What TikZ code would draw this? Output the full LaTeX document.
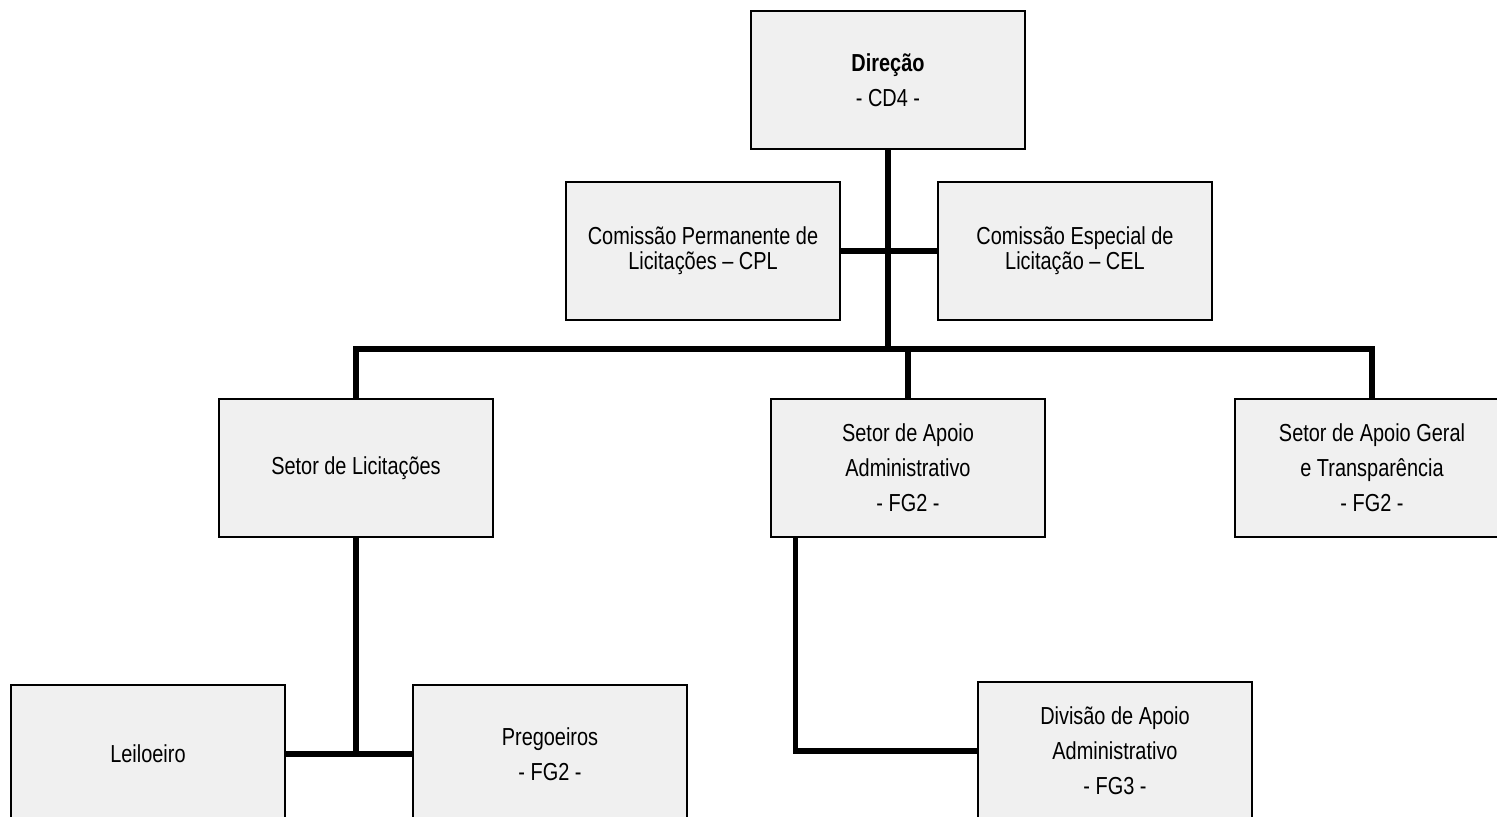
\documentclass[tikz,border=0pt]{standalone}
\usepackage{fontspec}
\setmainfont{Liberation Sans}[FakeStretch=0.81]
\usepackage{tikz}
\definecolor{boxgray}{HTML}{F0F0F0}
\tikzset{
  unit/.style={draw=black,line width=1.4pt,fill=boxgray,minimum width=5.48cm,
    minimum height=2.76cm,align=center,inner sep=0pt},
  link/.style={line width=2.9pt,draw=black},
}
\newcommand{\onetwo}{\fontsize{14}{14.3}\selectfont}
\newcommand{\three}{\fontsize{14}{20}\selectfont}

\begin{document}
\begin{tikzpicture}[x=0.02cm,y=-0.02cm]
\clip (0,0) rectangle (1497,817);
\useasboundingbox (0,0) rectangle (1497,817);

\node[unit,font=\three] (dir) at (888,80) {\textbf{Direção}\\- CD4 -};
\node[unit,font=\onetwo] (cpl) at (703,251) {Comissão Permanente de\\Licitações – CPL};
\node[unit,font=\onetwo] (cel) at (1075,251) {Comissão Especial de\\Licitação – CEL};

\node[unit,font=\three] (lic) at (356,468) {Setor de Licitações};
\node[unit,font=\three] (adm) at (908,468) {Setor de Apoio\\Administrativo\\- FG2 -};
\node[unit,font=\three] (geral) at (1372,468) {Setor de Apoio Geral\\e Transparência\\- FG2 -};

\node[unit,font=\three] (lei) at (148,754) {Leiloeiro};
\node[unit,font=\three] (preg) at (550,754) {Pregoeiros\\- FG2 -};
\node[unit,font=\three] (div) at (1115,751) {Divisão de Apoio\\Administrativo\\- FG3 -};

\coordinate (bus) at (888,349);

\draw[link] (dir.south) -- (bus);
\draw[link] (cpl.east) -- (cel.west);
\draw[link] (lic.north) |- (bus) -| (geral.north);
\draw[link] (adm.north) -- (adm.north |- bus);
\draw[link] (lic.south) -- (lic.south |- lei.east);
\draw[link] (lei.east) -- (preg.west);
\draw[link] ([xshift=0.52cm]adm.south west) |- (div.west);

\end{tikzpicture}
\end{document}
